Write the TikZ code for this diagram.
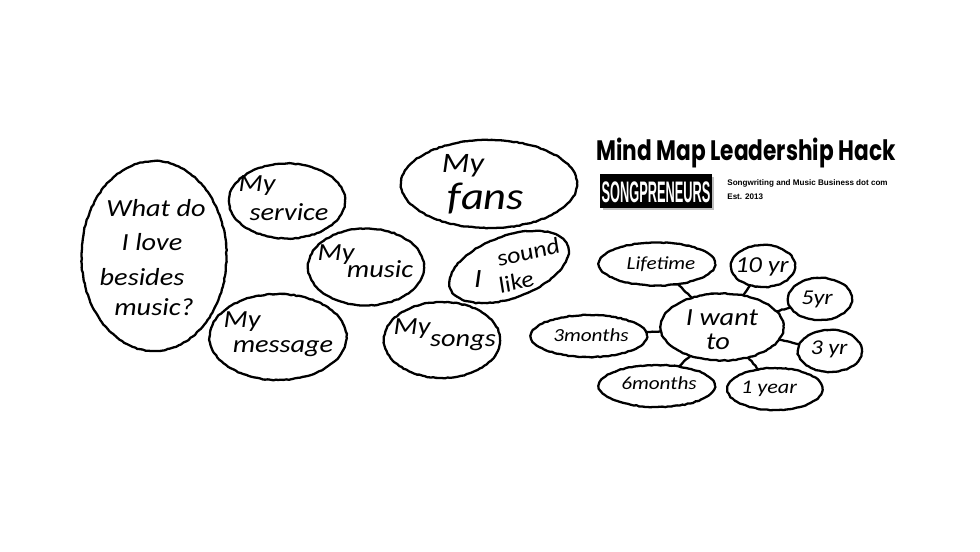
\documentclass[tikz,border=0pt]{standalone}
\usepackage{fontspec}
\setmainfont{Carlito}
\newfontfamily\titlefont{Poppins}
\newfontfamily\logofont{Liberation Sans}
\usetikzlibrary{positioning,shapes.geometric,decorations.pathmorphing,shadows}
\tikzset{
    x=0.02cm,y=-0.02cm,
    chalk/.style={line width=1.3pt,black,decorate,decoration={random steps,segment length=1.6pt,amplitude=0.25pt}},
    bubble/.style={ellipse,draw,chalk,inner sep=0pt,outer sep=0pt},
    hand/.style={font=\itshape\fontsize{#1}{#1}\selectfont,inner sep=0pt,xscale=1.15},
    link/.style={chalk}
}

\begin{document}
\begin{tikzpicture}
    \useasboundingbox (0,0) rectangle (980,551);
    % Left bubbles
    \node[bubble,minimum width=2.9cm,minimum height=3.8cm] (besides) at (154,256) {};
    \node[bubble,minimum width=2.32cm,minimum height=1.5cm] (service) at (287,201) {};
    \node[bubble,minimum width=2.74cm,minimum height=1.72cm] (message) at (278,337) {};
    \node[bubble,minimum width=2.32cm,minimum height=1.54cm] (music) at (366,267) {};
    \node[bubble,minimum width=3.52cm,minimum height=1.76cm] (fans) at (489,184) {};
    \node[bubble,minimum width=2.5cm,minimum height=1.24cm,rotate=20] (sound) at (509,267) {};
    \node[bubble,minimum width=2.32cm,minimum height=1.52cm] (songs) at (442,340) {};
    % Left labels
    \node[hand=14] (t1) at (156,208) {What do};
    \node[hand=14] (t2) at (152,242) {I love};
    \node[hand=14] (t3) at (142,277) {besides};
    \node[hand=14] (t4) at (154,307) {music?};
    \node[hand=14] (t5) at (257,186) {My};
    \node[hand=14] (t6) at (289,212) {service};
    \node[hand=14] (t7) at (242,322) {My};
    \node[hand=14] (t8) at (283,349) {message};
    \node[hand=14] (t9) at (336,255) {My};
    \node[hand=14] (t10) at (380,269) {music};
    \node[hand=16] (t11) at (463,166) {My};
    \node[hand=22] (t12) at (486,199) {fans};
    \node[hand=15] (t13) at (478,279) {I};
    \node[hand=13,rotate=15] (t14) at (528,252) {sound};
    \node[hand=13,rotate=15] (t15) at (516,282) {like};
    \node[hand=14] (t16) at (412,329) {My};
    \node[hand=14] (t17) at (463,343) {songs};
    % Right bubbles
    \node[bubble,minimum width=2.46cm,minimum height=1.34cm] (want) at (722,327) {};
    \node[bubble,minimum width=2.32cm,minimum height=0.86cm] (life) at (657,264) {};
    \node[bubble,minimum width=1.28cm,minimum height=0.84cm] (ten) at (763,266) {};
    \node[bubble,minimum width=1.28cm,minimum height=0.84cm] (five) at (820,299) {};
    \node[bubble,minimum width=1.28cm,minimum height=0.84cm] (three) at (830,351) {};
    \node[bubble,minimum width=1.9cm,minimum height=0.84cm] (year) at (775,389) {};
    \node[bubble,minimum width=2.32cm,minimum height=0.84cm] (six) at (657,386) {};
    \node[bubble,minimum width=2.32cm,minimum height=0.84cm] (mon) at (589,336) {};
    % Links
    \draw[link] (want) -- (life);
    \draw[link] (want) -- (ten);
    \draw[link] (want) -- (five);
    \draw[link] (want) -- (three);
    \draw[link] (want) -- (year);
    \draw[link] (want) -- (six);
    \draw[link] (want) -- (mon);
    % Right labels
    \node[hand=14] (r1) at (722,318) {I want};
    \node[hand=14] (r2) at (718,342) {to};
    \node[hand=10.5] (r3) at (661,264) {Lifetime};
    \node[hand=13] (r4) at (762,267) {10 yr};
    \node[hand=12] (r5) at (817,299) {5yr};
    \node[hand=12] (r6) at (829,349) {3 yr};
    \node[hand=11] (r7) at (769,389) {1 year};
    \node[hand=10.5] (r8) at (659,383) {6months};
    \node[hand=10.5] (r9) at (591,335) {3months};
    % Header
    \node[font=\titlefont\bfseries\fontsize{16}{16}\selectfont,inner sep=0pt,xscale=0.77] (title) at (746,153) {Mind Map Leadership Hack};
    \node[fill=black,draw=black,minimum width=2.22cm,minimum height=0.66cm,inner sep=0pt,drop shadow={shadow xshift=1.5pt,shadow yshift=-1.5pt,fill=black!50}] (logo) at (656,191) {};
    \node[text=white,xscale=0.56,yscale=1.3,font=\logofont\bfseries\fontsize{13}{13}\selectfont,inner sep=0pt] (logotext) at (656,192) {SONGPRENEURS};
    \node[font=\logofont\bfseries\fontsize{4.6}{5}\selectfont,anchor=west,inner sep=0pt] (tagline) at (727,183) {Songwriting and Music Business dot com};
    \node[font=\logofont\bfseries\fontsize{4.6}{5}\selectfont,anchor=west,inner sep=0pt] (est) at (727,197) {Est. 2013};
\end{tikzpicture}
\end{document}
